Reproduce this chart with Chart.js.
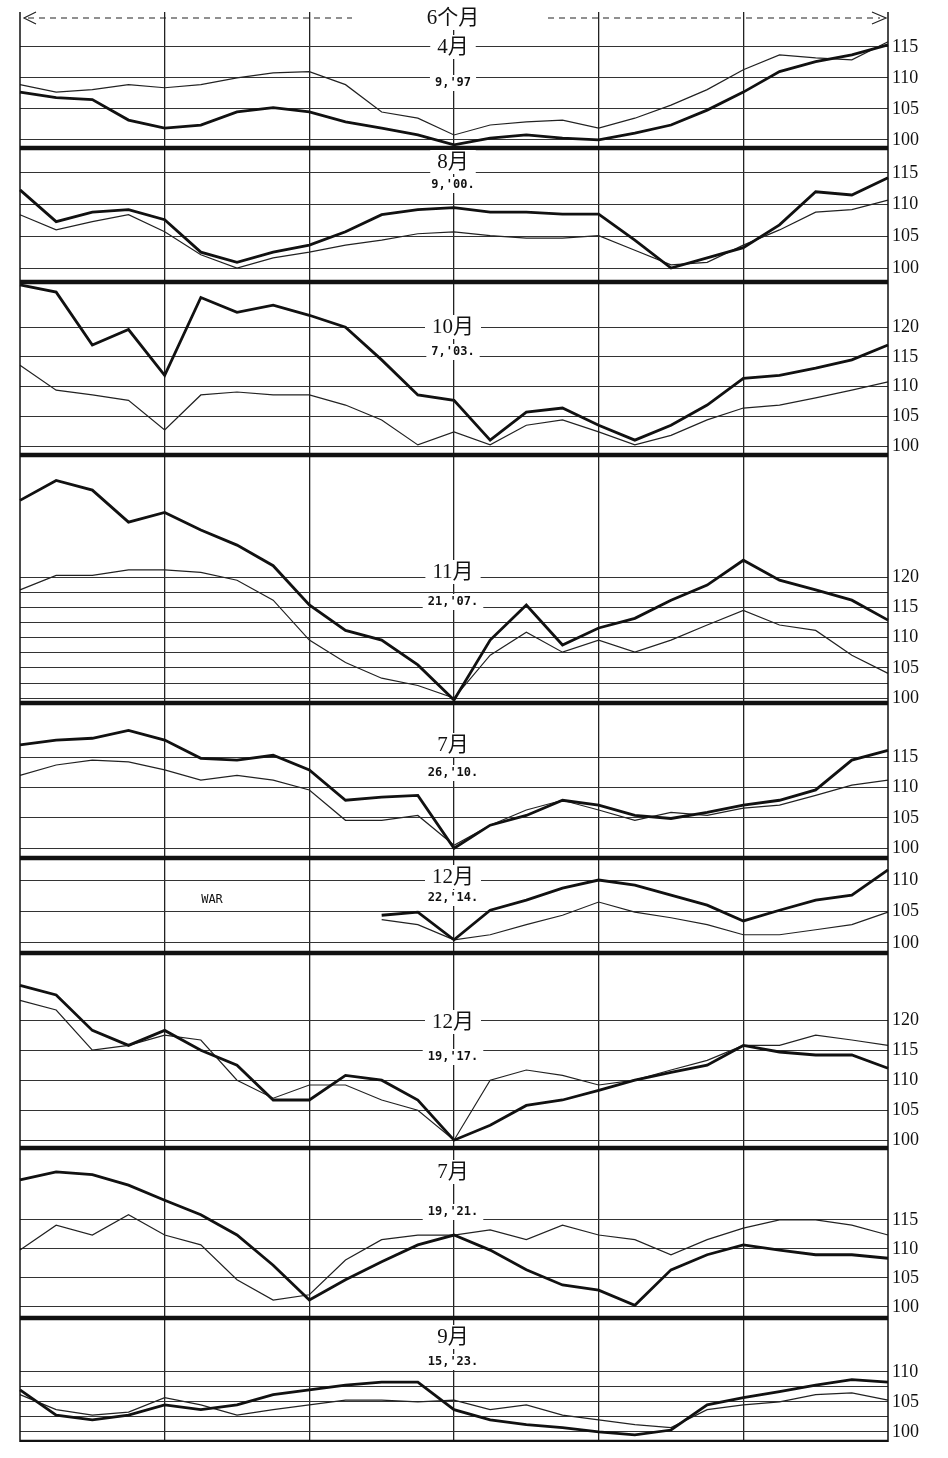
<!DOCTYPE html>
<html>
<head>
<meta charset="utf-8">
<script src="https://cdn.jsdelivr.net/npm/chart.js@4.4.1/dist/chart.umd.min.js"></script>
<style>
  body { margin: 0; background: #fff; }
  #wrap { position: relative; width: 948px; height: 1458px; }
  .panel { position: absolute; left: 0; width: 948px; }
  #top { position: absolute; left: 0; top: 0; z-index: 5; }
</style>
</head>
<body>
<div id="wrap"><canvas id="top" width="948" height="32"></canvas></div>
<script>
// 25 points over 6 months (about weekly), month gridlines every 4th point
const weeks = ['0','','','','1','','','','2','','','','3','','','','4','','','','5','','','','6'];

const months = ['4月', '8月', '10月', '11月', '7月', '12月', '12月', '7月', '9月'];
const dates = ["9,'97", "9,'00.", "7,'03.", "21,'07.", "26,'10.", "22,'14.", "19,'17.", "19,'21.", "15,'23."];
const yLabels = [
  [100, 105, 110, 115], [100, 105, 110, 115], [100, 105, 110, 115, 120],
  [100, 105, 110, 115, 120], [100, 105, 110, 115], [100, 105, 110],
  [100, 105, 110, 115, 120], [100, 105, 110, 115], [100, 105, 110]
];

const thick1 = [107.7,106.8,106.5,103.2,101.9,102.4,104.5,105.2,104.5,102.9,101.9,100.8,99.2,100.3,100.8,100.3,100,101.1,102.4,104.8,107.7,111,112.6,113.7,115.3];
const thin1  = [108.9,107.7,108.1,108.9,108.4,108.9,110,110.8,111,108.9,104.5,103.5,100.8,102.4,102.9,103.2,101.9,103.5,105.6,108.1,111.3,113.7,113.2,112.9,115.8];
const thick2 = [112.3,107.3,108.8,109.2,107.6,102.5,100.9,102.5,103.6,105.7,108.4,109.2,109.5,108.8,108.8,108.5,108.5,104.4,100,101.6,103.2,106.8,112,111.5,114.2];
const thin2  = [108.4,106,107.3,108.4,105.7,102.1,100,101.6,102.5,103.6,104.4,105.4,105.7,105.1,104.7,104.7,105.1,102.8,100.5,100.9,103.6,106,108.8,109.2,110.7];
const thick3 = [127.1,125.9,117,119.6,111.9,125,122.5,123.7,122,120,114.5,108.6,107.7,101,105.7,106.4,103.5,101,103.5,106.9,111.4,111.9,113.1,114.5,117];
const thin3  = [113.6,109.4,108.6,107.7,102.7,108.6,109.1,108.6,108.6,106.9,104.4,100.2,102.4,100.2,103.5,104.4,102.4,100.2,101.8,104.4,106.4,106.9,108.1,109.4,110.8];
const thick4 = [132.7,136,134.4,129.1,130.7,127.8,125.3,121.9,115.4,111.2,109.6,105.5,99.7,109.6,115.4,108.8,111.6,113.2,116.2,118.7,122.8,119.5,117.9,116.2,112.9];
const thin4  = [117.9,120.3,120.3,121.2,121.2,120.8,119.5,116.2,109.6,105.9,103.3,102.1,100,107.1,110.9,107.6,109.6,107.6,109.6,112.1,114.5,112.1,111.2,107.1,104.1];
const thick5 = [117,117.8,118.1,119.4,117.8,114.8,114.5,115.3,112.9,107.9,108.4,108.7,100,103.8,105.4,107.9,107.1,105.4,104.9,105.9,107.1,107.9,109.6,114.5,116.1];
const thin5  = [112,113.7,114.5,114.2,112.9,111.2,112,111.2,109.6,104.6,104.6,105.4,100.5,103.8,106.3,107.9,106.3,104.6,105.9,105.4,106.6,107.1,108.7,110.4,111.2];
const thick6 = [null,null,null,null,null,null,null,null,null,null,104.4,104.9,100.5,105.2,106.8,108.7,110,109.2,107.6,106,103.5,105.2,106.8,107.6,111.6];
const thin6  = [null,null,null,null,null,null,null,null,null,null,103.7,102.9,100.5,101.3,102.9,104.4,106.5,104.9,104,102.9,101.3,101.3,102.1,102.9,104.9];
const thick7 = [125.8,124.2,118.3,115.8,118.3,115,112.5,106.7,106.7,110.8,110,106.7,100,102.5,105.8,106.7,108.3,110,111.3,112.5,115.8,114.7,114.2,114.2,112];
const thin7  = [123.3,121.7,115,115.8,117.5,116.7,110,107,109.2,109.2,106.7,105,100,110,111.7,110.8,109.2,110,111.7,113.3,115.8,115.8,117.5,116.7,115.8];
const thick8 = [121.9,123.3,122.8,121,118.4,115.9,112.4,107.2,101.2,104.7,107.8,110.7,112.4,109.8,106.4,103.8,102.9,100.3,106.4,109,110.7,109.8,109,109,108.4];
const thin8  = [109.8,114.1,112.4,115.9,112.4,110.7,104.7,101.2,102.1,108.1,111.6,112.4,112.4,113.3,111.6,114.1,112.4,111.6,109,111.6,113.6,115,115,114.1,112.4];
const thick9 = [107,102.8,102,102.8,104.5,103.7,104.5,106.2,107,107.8,108.3,108.3,103.7,102,101.2,100.7,100,99.5,100.3,104.5,105.7,106.7,107.8,108.7,108.3];
const thin9  = [106.2,103.7,102.8,103.3,105.7,104.5,102.8,103.7,104.5,105.3,105.3,105,105.3,103.7,104.5,102.8,102,101.2,100.7,103.7,104.5,105,106.2,106.5,105.3];

const thickSeries = [thick1, thick2, thick3, thick4, thick5, thick6, thick7, thick8, thick9];
const thinSeries = [thin1, thin2, thin3, thin4, thin5, thin6, thin7, thin8, thin9];

// layout of panels: top, height, y range, caption positions (px within panel)
const panels = [
  { top: 12,   h: 136, min: 98.7, max: 120.6, mY: 35,  dY: 71 },
  { top: 148,  h: 134, min: 97.8, max: 118.9, mY: 14,  dY: 37 },
  { top: 282,  h: 173, min: 98.5, max: 127.6, mY: 45,  dY: 70 },
  { top: 455,  h: 248, min: 99.2, max: 140.2, mY: 117, dY: 147 },
  { top: 703,  h: 155, min: 98.4, max: 123.9, mY: 42,  dY: 70 },
  { top: 858,  h: 95,  min: 98.4, max: 113.5, mY: 19,  dY: 40 },
  { top: 953,  h: 195, min: 98.7, max: 131.2, mY: 69,  dY: 104 },
  { top: 1148, h: 170, min: 98.1, max: 127.4, mY: 24,  dY: 64 },
  { top: 1318, h: 124, min: 98.3, max: 119,   mY: 19,  dY: 44 }
];

const serif = '"Liberation Serif", "DejaVu Serif", "Noto Sans CJK SC", serif';

const framePlugin = {
  id: 'frame',
  afterDraw(chart, args, opts) {
    const { ctx, chartArea: a } = chart;
    ctx.save();
    ctx.strokeStyle = '#111';
    ctx.lineWidth = 2.5;
    ctx.beginPath();
    if (!opts.first) { ctx.moveTo(a.left, a.top + 1); ctx.lineTo(a.right, a.top + 1); }
    ctx.moveTo(a.left, a.bottom - 1); ctx.lineTo(a.right, a.bottom - 1);
    ctx.stroke();
    ctx.lineWidth = 1.5;
    ctx.beginPath();
    ctx.moveTo(a.left, a.top); ctx.lineTo(a.left, a.bottom);
    ctx.moveTo(a.right, a.top); ctx.lineTo(a.right, a.bottom);
    ctx.stroke();
    // month and date captions
    const cx = 453;
    ctx.font = '21px ' + serif;
    const mw = ctx.measureText(opts.month).width + 14;
    ctx.fillStyle = '#fff';
    ctx.fillRect(cx - mw / 2, opts.mY - 12, mw, 24);
    ctx.fillStyle = '#111';
    ctx.textAlign = 'center';
    ctx.textBaseline = 'middle';
    ctx.fillText(opts.month, cx, opts.mY);
    ctx.font = 'bold 12px "DejaVu Sans Mono", monospace';
    const dw = ctx.measureText(opts.date).width + 10;
    ctx.fillStyle = '#fff';
    ctx.fillRect(cx - dw / 2, opts.dY - 8, dw, 16);
    ctx.fillStyle = '#111';
    ctx.fillText(opts.date, cx, opts.dY);
    if (opts.war) {
      ctx.font = '12px "DejaVu Sans Mono", monospace';
      ctx.fillText('WAR', 212, 42);
    }
    ctx.restore();
  }
};

panels.forEach((p, i) => {
  const div = document.createElement('div');
  div.className = 'panel';
  div.style.top = p.top + 'px';
  div.style.height = p.h + 'px';
  const cv = document.createElement('canvas');
  div.appendChild(cv);
  document.getElementById('wrap').appendChild(div);
  const labels = yLabels[i];
  const top = labels[labels.length - 1];
  new Chart(cv, {
    type: 'line',
    data: {
      labels: weeks,
      datasets: [
        { data: thickSeries[i], borderColor: '#111', borderWidth: 2.8, pointRadius: 0, tension: 0 },
        { data: thinSeries[i], borderColor: '#222', borderWidth: 1.2, pointRadius: 0, tension: 0 }
      ]
    },
    options: {
      responsive: true,
      maintainAspectRatio: false,
      animation: false,
      layout: { padding: 0 },
      plugins: {
        legend: { display: false },
        tooltip: { enabled: false },
        frame: { month: months[i], date: dates[i], mY: p.mY, dY: p.dY, war: i === 5, first: i === 0 }
      },
      scales: {
        x: {
          ticks: { display: false },
          border: { display: false },
          grid: {
            drawTicks: false,
            color: c => (c.index % 4 === 0 && c.index > 0 && c.index < 24) ? '#222' : 'rgba(0,0,0,0)',
            lineWidth: 1.3
          },
          afterFit: s => { s.height = 0; s.paddingLeft = 20; s.paddingRight = 0; }
        },
        y: {
          position: 'right',
          min: p.min,
          max: p.max,
          border: { display: false },
          afterBuildTicks: s => {
            const t = [];
            for (let v = 100; v <= top + 0.01; v += 2.5) t.push({ value: v });
            s.ticks = t;
          },
          afterFit: s => { s.width = 60; s.paddingTop = 0; s.paddingBottom = 0; },
          grid: { drawTicks: false, color: '#333', lineWidth: 1 },
          ticks: {
            padding: 4,
            color: '#111',
            font: { family: serif, size: 18 },
            callback: v => labels.includes(v) ? String(v) : ''
          }
        }
      }
    },
    plugins: [framePlugin]
  });
});

// header: dashed arrows and "6个月"
const t = document.getElementById('top').getContext('2d');
t.strokeStyle = '#222';
t.lineWidth = 1.2;
t.setLineDash([6, 5]);
t.beginPath();
t.moveTo(28, 18); t.lineTo(352, 18);
t.moveTo(548, 18); t.lineTo(880, 18);
t.stroke();
t.setLineDash([]);
t.beginPath();
t.moveTo(36, 12); t.lineTo(24, 18); t.lineTo(36, 24);
t.moveTo(872, 12); t.lineTo(886, 18); t.lineTo(872, 24);
t.stroke();
t.font = '21px ' + serif;
t.fillStyle = '#fff';
t.fillRect(415, 4, 76, 26);
t.fillStyle = '#111';
t.textAlign = 'center';
t.textBaseline = 'middle';
t.fillText('6个月', 453, 18);
</script>
</body>
</html>
